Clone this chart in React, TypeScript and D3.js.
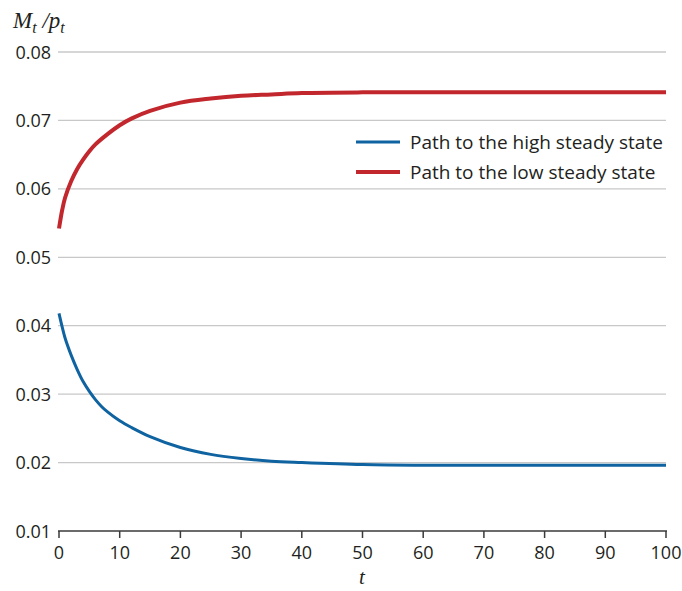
import React from "react";
import * as d3 from "d3";

const tHigh = [0, 0.5, 1, 2, 3, 4, 5, 6, 7, 8, 10, 12, 15, 20, 25, 30, 35, 40, 50, 60, 70, 80, 90, 100];
const highPath = [0.0418, 0.0399, 0.0382, 0.0357, 0.0336, 0.0318, 0.0304, 0.0292, 0.0282, 0.0274, 0.0261, 0.0251, 0.0238, 0.0222, 0.0212, 0.0206, 0.0202, 0.0200, 0.0197, 0.0196, 0.0196, 0.0196, 0.0196, 0.0196];
const tLow = [0, 0.5, 1, 2, 3, 4, 5, 6, 8, 10, 12, 15, 20, 25, 30, 35, 40, 50, 60, 70, 80, 90, 100];
const lowPath = [0.0542, 0.0568, 0.0587, 0.0611, 0.0629, 0.0643, 0.0655, 0.0665, 0.0680, 0.0693, 0.0703, 0.0714, 0.0726, 0.0732, 0.0736, 0.0738, 0.0740, 0.0741, 0.0741, 0.0741, 0.0741, 0.0741, 0.0741];
const yTicks = [0.01, 0.02, 0.03, 0.04, 0.05, 0.06, 0.07, 0.08];
const xTicks = [0, 10, 20, 30, 40, 50, 60, 70, 80, 90, 100];
const seriesNames = ["Path to the high steady state", "Path to the low steady state"];

const W = 682, H = 591;
const BLUE = "#0f63a0";
const RED = "#c1272d";
const FONT = "'Open Sans', 'Noto Sans', sans-serif";

export default function App() {
  const x = d3.scaleLinear().domain([0, 100]).range([59, 666]);
  const y = d3.scaleLinear().domain([0.01, 0.08]).range([531, 52]);
  const line = d3
    .line<[number, number]>()
    .x((d) => x(d[0]))
    .y((d) => y(d[1]))
    .curve(d3.curveCatmullRom.alpha(0.5));
  const highD = line(tHigh.map((t, i) => [t, highPath[i]]) as [number, number][]) || "";
  const lowD = line(tLow.map((t, i) => [t, lowPath[i]]) as [number, number][]) || "";

  return (
    <svg width={W} height={H} style={{ position: "absolute", left: 0, top: 0, background: "#fff" }}>
      {yTicks.filter((v) => v > 0.01).map((v) => (
        <line key={v} x1={58} x2={666} y1={y(v)} y2={y(v)} stroke="#c8c8c8" strokeWidth={1.3} />
      ))}
      {yTicks.map((v) => (
        <text key={"yl" + v} x={51} y={y(v) + 6.5} textAnchor="end" fontFamily={FONT} fontSize={18} fill="#231f20">
          {v.toFixed(2)}
        </text>
      ))}
      <line x1={58} x2={667} y1={y(0.01)} y2={y(0.01)} stroke="#3a3a3a" strokeWidth={1.5} />
      {xTicks.map((v) => (
        <g key={"xt" + v}>
          <line x1={x(v)} x2={x(v)} y1={y(0.01)} y2={y(0.01) + 7} stroke="#3a3a3a" strokeWidth={1.5} />
          <text x={x(v)} y={559} textAnchor="middle" fontFamily={FONT} fontSize={18} fill="#231f20">
            {v}
          </text>
        </g>
      ))}
      <text x={362} y={584} textAnchor="middle" fontFamily="'Liberation Serif', serif" fontStyle="italic" fontSize={21} fill="#231f20">
        t
      </text>
      <text x={13} y={28} fontFamily="'Liberation Serif', serif" fontStyle="italic" fontSize={23} fill="#231f20">
        M<tspan dy={5} fontSize={16}>t</tspan>
        <tspan dy={-5}> /</tspan>
        <tspan>p</tspan>
        <tspan dy={5} fontSize={16}>t</tspan>
      </text>
      <path d={highD} fill="none" stroke={BLUE} strokeWidth={3} />
      <path d={lowD} fill="none" stroke={RED} strokeWidth={4} />
      <line x1={356} x2={400} y1={142} y2={142} stroke={BLUE} strokeWidth={3} />
      <text x={410} y={149} fontFamily={FONT} fontSize={19} fill="#231f20">{seriesNames[0]}</text>
      <line x1={356} x2={400} y1={172} y2={172} stroke={RED} strokeWidth={4} />
      <text x={410} y={179} fontFamily={FONT} fontSize={19} fill="#231f20">{seriesNames[1]}</text>
    </svg>
  );
}
